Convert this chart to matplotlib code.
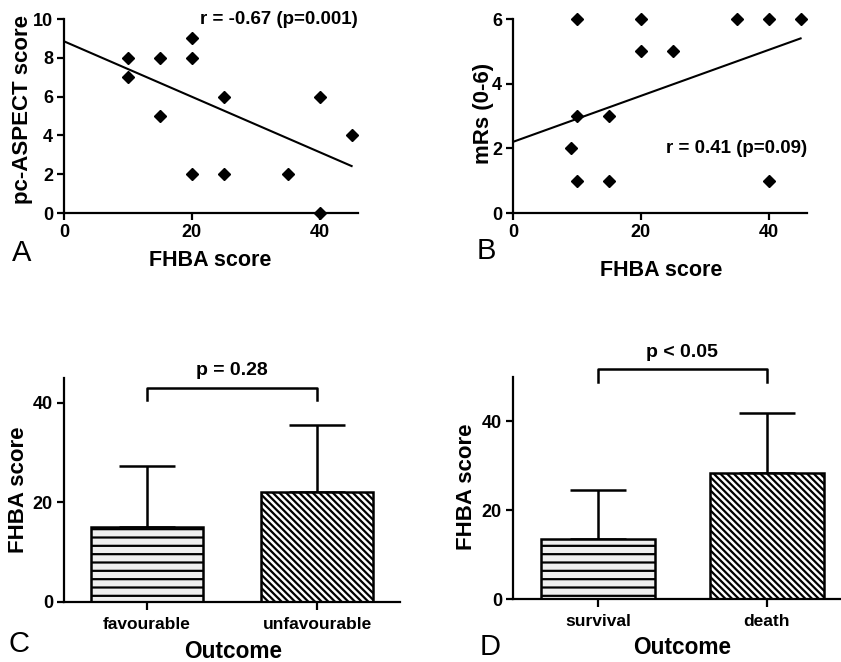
"""Four-panel FHBA score figure: two correlations (A, B), two group comparisons (C, D)."""
import numpy as np
import matplotlib

matplotlib.use("Agg")
import matplotlib.pyplot as plt  # noqa: E402

plt.rcParams["font.family"] = ["Liberation Sans", "DejaVu Sans"]
plt.rcParams["font.weight"] = "bold"
plt.rcParams["hatch.linewidth"] = 1.6
plt.rcParams["hatch.color"] = "black"

# ---------------------------------------------------------------------------
# data
# ---------------------------------------------------------------------------
fhba_a = [10, 10, 15, 15, 20, 20, 20, 25, 25, 35, 40, 40, 45]
aspect_a = [8, 7, 8, 5, 9, 8, 2, 6, 2, 2, 6, 0, 4]
fit_x_a = [0, 45]
fit_y_a = [8.85, 2.42]

fhba_b = [10, 20, 35, 40, 45, 20, 25, 10, 15, 9, 10, 15, 40]
mrs_b = [6, 6, 6, 6, 6, 5, 5, 3, 3, 2, 1, 1, 1]
fit_x_b = [0, 45]
fit_y_b = [2.2, 5.4]

groups_c = ["favourable", "unfavourable"]
mean_c = [15.0, 22.0]
sd_c = [12.3, 13.5]

groups_d = ["survival", "death"]
mean_d = [13.5, 28.3]
sd_d = [11.0, 13.7]

W, H = 841, 662
LW = 1.6


def px_axes(fig, left, top, right, bottom):
    """Add axes from pixel coordinates (origin top-left)."""
    return fig.add_axes([left / W, 1 - bottom / H, (right - left) / W, (bottom - top) / H])


def px_label(ax, axis, text, x, y, size):
    """Axis label centred on a pixel position of the figure."""
    lab_axis = ax.xaxis if axis == "x" else ax.yaxis
    lab_axis.set_label_text(text, fontsize=size, fontweight="bold")
    lab_axis.set_label_coords(x / W, 1 - y / H, transform=ax.figure.transFigure)
    lab_axis.label.set_va("center")
    lab_axis.label.set_ha("center")


def style(ax, size=13):
    for s in ("top", "right"):
        ax.spines[s].set_visible(False)
    for s in ("left", "bottom"):
        ax.spines[s].set_linewidth(LW)
    ax.tick_params(width=LW, length=5, labelsize=size, direction="out", pad=3)
    for lab in ax.get_xticklabels() + ax.get_yticklabels():
        lab.set_fontweight("bold")


fig = plt.figure(figsize=(W / 100, H / 100), dpi=100)

# --- A -------------------------------------------------------------------
ax = px_axes(fig, 64, 19, 358, 213)
ax.plot(fhba_a, aspect_a, "D", color="black", ms=6.6, clip_on=False, zorder=3)
ax.plot(fit_x_a, fit_y_a, color="black", lw=1.5)
ax.set_xlim(0, 46)
ax.set_ylim(0, 10)
ax.set_xticks([0, 20, 40])
ax.set_yticks([0, 2, 4, 6, 8, 10])
style(ax)
px_label(ax, "x", "FHBA score", 210, 261, 15.5)
px_label(ax, "y", "pc-ASPECT score", 23, 110, 16)
ax.text(46, 10, "r = -0.67 (p=0.001)", ha="right", va="center", fontsize=13.5,
        fontweight="bold")

# --- B -------------------------------------------------------------------
ax = px_axes(fig, 513, 19, 807, 213)
ax.plot(fhba_b, mrs_b, "D", color="black", ms=6.6, clip_on=False, zorder=3)
ax.plot(fit_x_b, fit_y_b, color="black", lw=1.5)
ax.set_xlim(0, 46)
ax.set_ylim(0, 6)
ax.set_xticks([0, 20, 40])
ax.set_yticks([0, 2, 4, 6])
style(ax)
px_label(ax, "x", "FHBA score", 661, 270, 15.5)
px_label(ax, "y", "mRs (0-6)", 483, 113, 16)
ax.text(46, 2, "r = 0.41 (p=0.09)", ha="right", va="center", fontsize=13.5,
        fontweight="bold")


# --- C / D bar panels ----------------------------------------------------
def bar_panel(ax, names, means, sds, width, ymax, bracket_y, text_y, label):
    x = np.arange(len(names))
    for xi, m, h, fc in zip(x, means, ["--", "\\\\\\\\\\"], ["#efefef", "white"]):
        ax.bar(xi, m, width=width, color=fc, edgecolor="black",
               linewidth=1.8, hatch=h, zorder=2)
    ax.errorbar(x, means, yerr=[np.zeros(len(sds)), sds], fmt="none",
                ecolor="black", elinewidth=1.8, capsize=20, capthick=1.8, zorder=1)
    tick_h = bracket_y * 0.055
    ax.plot([x[0], x[0], x[1], x[1]],
            [bracket_y - tick_h, bracket_y, bracket_y, bracket_y - tick_h],
            color="black", lw=1.8, clip_on=False)
    ax.text(x.mean(), text_y, label, ha="center", va="center", fontsize=14,
            fontweight="bold", clip_on=False)
    ax.set_ylim(0, ymax)
    ax.set_yticks([0, 20, 40])
    ax.set_xticks(x)
    ax.set_xticklabels(names)
    style(ax)
    ax.tick_params(axis="x", length=6, pad=5, labelsize=12.5)


ax = px_axes(fig, 64, 378, 400, 602)
ax.set_xlim(-0.488, 1.488)
bar_panel(ax, groups_c, mean_c, sd_c, 0.66, 45, 42.9, 46.6, "p = 0.28")
px_label(ax, "x", "Outcome", 233, 652, 16.3)
px_label(ax, "y", "FHBA score", 19, 490, 16)

ax = px_axes(fig, 513, 377, 841, 599)
ax.set_xlim(-0.503, 1.44)
bar_panel(ax, groups_d, mean_d, sd_d, 0.675, 50, 51.7, 55.5, "p < 0.05")
px_label(ax, "x", "Outcome", 682, 648, 16.3)
px_label(ax, "y", "FHBA score", 467, 487, 16)

# panel letters
for letter, x, y in [("A", 12, 253), ("B", 477, 251), ("C", 8, 644), ("D", 480, 647)]:
    fig.text(x / W, 1 - y / H, letter, fontsize=21, fontweight="normal",
             ha="left", va="center")

fig.savefig("out.png", dpi=100)
